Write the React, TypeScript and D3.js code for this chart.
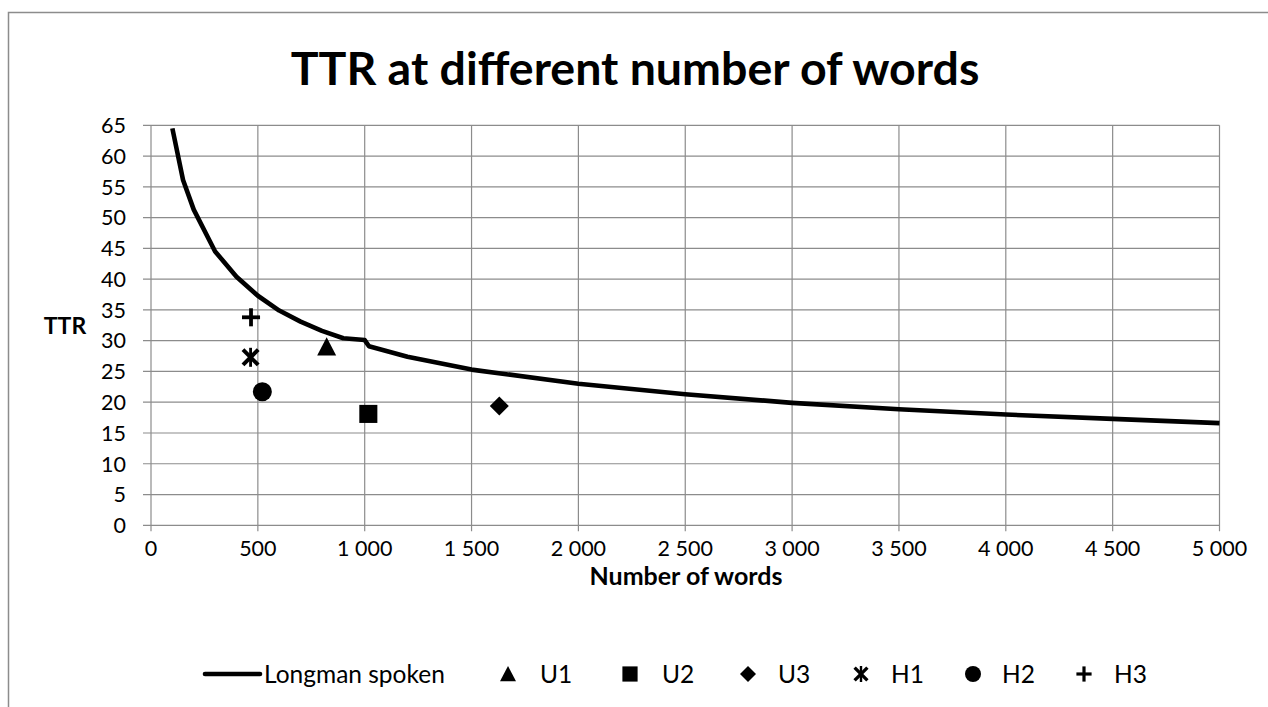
import React from "react";
import * as d3 from "d3";

const longmanWords = [100, 150, 200, 300, 400, 500, 600, 700, 800, 900, 1000, 1020, 1200, 1500, 2000, 2500, 3000, 3500, 4000, 4500, 5000];
const longmanTTR = [64.5, 56.1, 51.3, 44.5, 40.4, 37.3, 34.9, 33.1, 31.6, 30.4, 30.1, 29.1, 27.4, 25.3, 23.0, 21.3, 19.9, 18.85, 18.0, 17.3, 16.6];

const sampleNames = ["U1", "U2", "U3", "H1", "H2", "H3"];
const sampleShapes = ["triangle", "square", "diamond", "star", "circle", "plus"];
const sampleWords = [822, 1017, 1630, 466, 521, 468];
const sampleTTR = [29.0, 18.1, 19.4, 27.3, 21.7, 33.8];

const xTicks = [0, 500, 1000, 1500, 2000, 2500, 3000, 3500, 4000, 4500, 5000];
const yTicks = [0, 5, 10, 15, 20, 25, 30, 35, 40, 45, 50, 55, 60, 65];

const title = "TTR at different number of words";
const xTitle = "Number of words";
const yTitle = "TTR";
const lineLabel = "Longman spoken";

const FONT = "Lato, 'Open Sans', sans-serif";
const GRID = "#8c8c8c";

const fmt = (v: number) => {
  const s = String(v);
  if (v >= 1000) return s.slice(0, s.length - 3) + "\u00a0" + s.slice(s.length - 3);
  return s;
};

function Marker({ shape, x, y, size }: { shape: string; x: number; y: number; size: number }) {
  const h = size / 2;
  switch (shape) {
    case "triangle":
      return <path d={`M${x},${y - h}L${x + h},${y + h * 0.9}L${x - h},${y + h * 0.9}Z`} fill="#000" />;
    case "square":
      return <rect x={x - h * 0.95} y={y - h * 0.95} width={size * 0.95} height={size * 0.95} fill="#000" />;
    case "diamond":
      return <path d={`M${x},${y - h}L${x + h},${y}L${x},${y + h}L${x - h},${y}Z`} fill="#000" />;
    case "circle":
      return <circle cx={x} cy={y} r={h} fill="#000" />;
    case "plus": {
      const p = h * 0.95;
      return (
        <g stroke="#000" strokeWidth={size * 0.2}>
          <line x1={x - p} y1={y} x2={x + p} y2={y} />
          <line x1={x} y1={y - p} x2={x} y2={y + p} />
        </g>
      );
    }
    case "star": {
      const p = h * 0.8;
      return (
        <g stroke="#000" strokeWidth={size * 0.21}>
          <line x1={x - p} y1={y - p} x2={x + p} y2={y + p} />
          <line x1={x - p} y1={y + p} x2={x + p} y2={y - p} />
          <line x1={x} y1={y - h} x2={x} y2={y + h} strokeWidth={size * 0.15} />
        </g>
      );
    }
  }
  return null;
}

export default function App() {
  const x = d3.scaleLinear().domain([0, 5000]).range([151, 1219.5]);
  const y = d3.scaleLinear().domain([0, 65]).range([525.3, 125.3]);

  const line = d3
    .line<number>()
    .x((_, i) => x(longmanWords[i]))
    .y((d) => y(d))
    .curve(d3.curveLinear);

  const legendItems = [
    { shape: "triangle", name: sampleNames[0], mx: 508, tx: 540 },
    { shape: "square", name: sampleNames[1], mx: 630, tx: 662 },
    { shape: "diamond", name: sampleNames[2], mx: 748, tx: 778 },
    { shape: "star", name: sampleNames[3], mx: 861, tx: 891 },
    { shape: "circle", name: sampleNames[4], mx: 973, tx: 1002 },
    { shape: "plus", name: sampleNames[5], mx: 1084, tx: 1114 },
  ];

  return (
    <svg
      width={1268}
      height={707}
      style={{ position: "absolute", left: 0, top: 0, display: "block", background: "#fff" }}
      fontFamily={FONT}
    >
      <rect x={0} y={0} width={1268} height={707} fill="#fff" />
      <rect x={8.5} y={12.5} width={1300} height={720} fill="none" stroke={GRID} strokeWidth={1.5} />

      <text x={635} y={85} textAnchor="middle" fontSize={46.5} fontWeight={700} fill="#000">
        {title}
      </text>

      {/* grid */}
      {yTicks.map((t) => (
        <line key={"h" + t} x1={143} x2={x(5000)} y1={y(t)} y2={y(t)} stroke={GRID} strokeWidth={1.2} />
      ))}
      {xTicks.map((t) => (
        <line key={"v" + t} x1={x(t)} x2={x(t)} y1={y(65)} y2={y(0) + 6} stroke={GRID} strokeWidth={1.2} />
      ))}

      {/* y tick labels */}
      {yTicks.map((t) => (
        <text key={"yl" + t} x={126} y={y(t)} dy="0.36em" textAnchor="end" fontSize={21.5} fill="#000">
          {t}
        </text>
      ))}
      {/* x tick labels */}
      {xTicks.map((t) => (
        <text key={"xl" + t} x={x(t)} y={556} textAnchor="middle" fontSize={21.5} fill="#000">
          {fmt(t)}
        </text>
      ))}

      <text x={686} y={585} textAnchor="middle" fontSize={25} fontWeight={700} fill="#000">
        {xTitle}
      </text>
      <text x={65} y={334} textAnchor="middle" fontSize={23} fontWeight={700} fill="#000">
        {yTitle}
      </text>

      {/* series line */}
      <path d={line(longmanTTR) || ""} fill="none" stroke="#000" strokeWidth={4.6} strokeLinejoin="round" />

      {/* samples */}
      {sampleNames.map((n, i) => (
        <Marker key={n} shape={sampleShapes[i]} x={x(sampleWords[i])} y={y(sampleTTR[i])} size={19} />
      ))}

      {/* legend */}
      <line x1={205} x2={260} y1={674} y2={674} stroke="#000" strokeWidth={4.6} strokeLinecap="round" />
      <text x={264} y={682.5} fontSize={24.5} fill="#000">
        {lineLabel}
      </text>
      {legendItems.map((it) => (
        <g key={it.name}>
          <Marker shape={it.shape} x={it.mx} y={674} size={16} />
          <text x={it.tx} y={682.5} fontSize={24.5} fill="#000">
            {it.name}
          </text>
        </g>
      ))}
    </svg>
  );
}
